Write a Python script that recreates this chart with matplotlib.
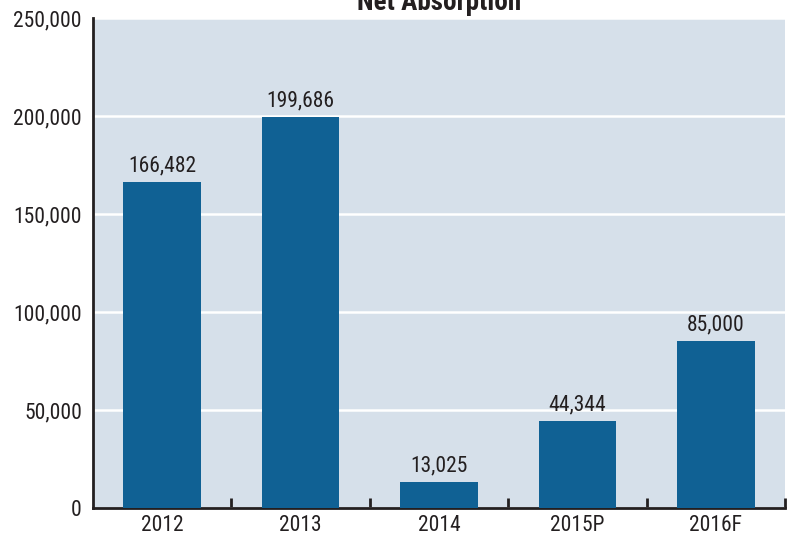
import matplotlib
matplotlib.use("Agg")
import matplotlib.pyplot as plt
from matplotlib.ticker import FuncFormatter, MultipleLocator

categories = ["2012", "2013", "2014", "2015P", "2016F"]
absorption = [166482, 199686, 13025, 44344, 85000]
title = "Net Absorption"

plt.rcParams["font.family"] = ["Roboto Condensed", "Archivo Narrow", "DejaVu Sans"]

bg = "#d6e0ea"
bar_color = "#106194"
text_color = "#231f20"

fig = plt.figure(figsize=(7.93, 5.36), dpi=100)
ax = fig.add_axes([93 / 793, 28 / 536, 692 / 793, 490 / 536])
ax.set_facecolor(bg)

x = list(range(len(categories)))
ax.bar(x, absorption, width=0.56, color=bar_color, zorder=3)
for xi, v in zip(x, absorption):
    ax.annotate(f"{v:,}", (xi, v), xytext=(0, 4), textcoords="offset points",
                ha="center", va="bottom", fontsize=15.5, color=text_color, zorder=4)

ax.set_xlim(-0.5, len(categories) - 0.5)
ax.set_ylim(0, 250000)
ax.yaxis.set_major_locator(MultipleLocator(50000))
ax.yaxis.set_major_formatter(FuncFormatter(lambda v, p: f"{int(v):,}"))
ax.grid(axis="y", color="white", linewidth=1.8, zorder=1)
ax.set_axisbelow(True)

ax.set_xticks(x)
ax.set_xticklabels(categories)
ax.tick_params(axis="x", which="major", length=0, pad=5, labelsize=15.5, colors=text_color)
ax.set_xticks([i + 0.5 for i in x], minor=True)
ax.tick_params(axis="x", which="minor", direction="in", length=7.5, width=2, color=text_color)
ax.tick_params(axis="y", length=0, pad=8, labelsize=15.5, colors=text_color)

for s in ("top", "right"):
    ax.spines[s].set_visible(False)
for s in ("left", "bottom"):
    ax.spines[s].set_linewidth(2)
    ax.spines[s].set_color(text_color)

fig.text(439 / 793, 1 - 10 / 536, title, ha="center", va="baseline", fontsize=19.5,
         fontweight="bold", color=text_color)

fig.savefig("out.png", dpi=100)
